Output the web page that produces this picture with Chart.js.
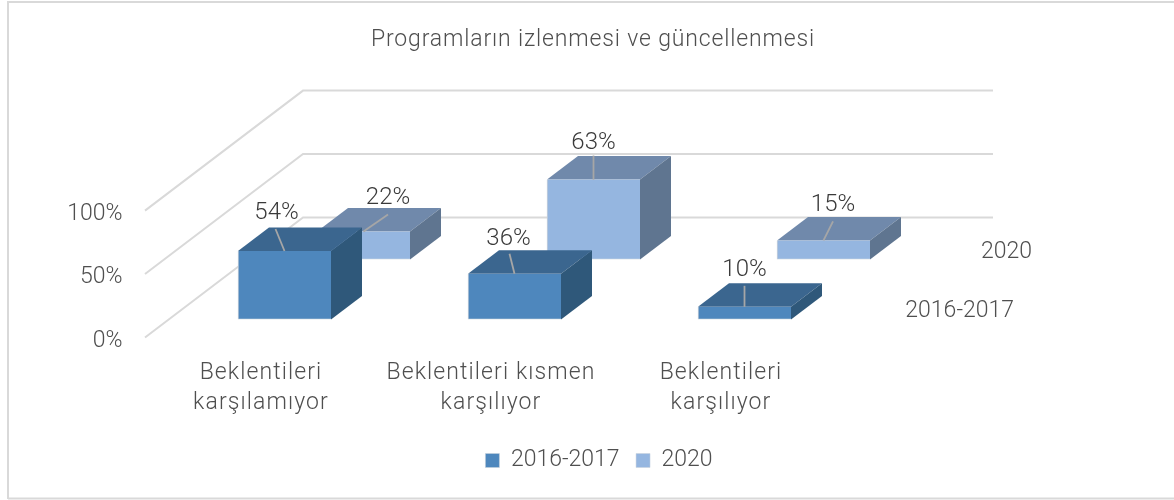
<!DOCTYPE html>
<html><head><meta charset="utf-8">
<style>html,body{margin:0;padding:0;background:#fff}canvas{display:block}</style>
<script src="https://cdn.jsdelivr.net/npm/chart.js@4"></script>
</head><body>
<canvas id="c" width="1174" height="500"></canvas>
<script>
const categories = [["Beklentileri","karşılamıyor"],["Beklentileri kısmen","karşılıyor"],["Beklentileri","karşılıyor"]];
const values2016 = [54, 36, 10];
const values2020 = [22, 63, 15];
const seriesNames = ["2016-2017", "2020"];
const yTicks = [0, 50, 100];
const chartTitle = "Programların izlenmesi ve güncellenmesi";

const FONT = "Roboto", TEXT = "#4f4f4f", WEIGHT = 300;
// Projection of the 3-D view: where each series row sits, and the box depth
const rows = [
  {dx: 0,  dy: -18, front: "#4e87bd", top: "#3b668f", side: "#2f587a", nameX: 1014, nameY: 309, labels: [[-8,-40,-9,-22],[-6,-37,-5,-20],[0,-39,0,-21]]},
  {dx: 79, dy: -78, front: "#95b6e0", top: "#7089ab", side: "#5f7590", nameX: 1032, nameY: 250, labels: [[24.5,-36,24.5,-17],[0,-39,0,-24],[9.5,-37,9.5,-19]]}
];
const DEPTH = {x: 31, y: -23.5};
const WALL = {frontX: 145, backX: 303, rightX: 993, rise: -120};

function spaced(obj, method, sp){
  const f = obj[method];
  obj[method] = function(...a){
    const x = this.ctx, prev = x.letterSpacing;
    x.letterSpacing = sp; f.apply(this, a); x.letterSpacing = prev;
  };
}

const depth3d = {
  id: "depth3d",
  afterLayout(c){
    c.legend.left += 6; c.legend.right += 6;
    if (!c.$spaced){
      c.$spaced = true;
      spaced(c.titleBlock, "draw", "0.85px");
      spaced(c.scales.x, "drawLabels", "1.1px");
    }
  },
  beforeDraw(c){
    const x = c.ctx;
    x.save();
    x.strokeStyle = "#d9d9d9"; x.lineWidth = 2;
    x.beginPath();
    x.moveTo(8, 499); x.lineTo(8, 2); x.lineTo(1174, 2);
    x.moveTo(8, 498.5); x.lineTo(1174, 498.5);
    x.stroke();
    x.restore();
  },
  beforeDatasetsDraw(c){
    const x = c.ctx, y = c.scales.y;
    x.save();
    x.strokeStyle = "#d9d9d9"; x.lineWidth = 2;
    yTicks.forEach(v => {
      const p = y.getPixelForValue(v);
      x.beginPath();
      x.moveTo(WALL.frontX, p);
      x.lineTo(WALL.backX, p + WALL.rise);
      x.lineTo(WALL.rightX, p + WALL.rise);
      x.stroke();
    });
    x.restore();
  },
  beforeDatasetDraw(c, args){
    const x = c.ctx, r = rows[args.index];
    x.save();
    x.translate(r.dx, r.dy);
    c.getDatasetMeta(args.index).data.forEach(el => {
      const l = el.x - el.width/2, w = el.width, t = el.y, b = el.base;
      x.fillStyle = r.top;
      x.beginPath();
      x.moveTo(l, t); x.lineTo(l + DEPTH.x, t + DEPTH.y);
      x.lineTo(l + w + DEPTH.x, t + DEPTH.y); x.lineTo(l + w, t);
      x.closePath(); x.fill();
      x.fillStyle = r.side;
      x.beginPath();
      x.moveTo(l + w, t); x.lineTo(l + w + DEPTH.x, t + DEPTH.y);
      x.lineTo(l + w + DEPTH.x, b + DEPTH.y); x.lineTo(l + w, b);
      x.closePath(); x.fill();
    });
  },
  afterDatasetDraw(c){ c.ctx.restore(); },
  afterDatasetsDraw(c){
    const x = c.ctx;
    x.save();
    x.textAlign = "center"; x.textBaseline = "middle";
    rows.forEach((r, i) => {
      const ds = c.data.datasets[i];
      c.getDatasetMeta(i).data.forEach((el, j) => {
        const tx = el.x + r.dx, ty = el.y + r.dy, o = r.labels[j];
        x.strokeStyle = "#a6a6a6"; x.lineWidth = 1.8;
        x.beginPath(); x.moveTo(tx, ty); x.lineTo(tx + o[2], ty + o[3]); x.stroke();
        x.fillStyle = "#3a3a3a";
        x.font = WEIGHT + " 24px " + FONT;
        x.fillText(ds.data[j] + "%", tx + o[0], ty + o[1] + 2);
      });
    });
    x.fillStyle = TEXT; x.textAlign = "right";
    x.font = WEIGHT + " 23px " + FONT;
    rows.forEach((r, i) => x.fillText(seriesNames[i], r.nameX, r.nameY + 2));
    x.restore();
  }
};

new Chart(document.getElementById("c"), {
  type: "bar",
  data: {
    labels: categories,
    datasets: [
      {label: seriesNames[0], data: values2016, backgroundColor: rows[0].front},
      {label: seriesNames[1], data: values2020, backgroundColor: rows[1].front}
    ]
  },
  plugins: [depth3d],
  options: {
    responsive: false,
    animation: false,
    events: [],
    layout: {padding: {left: 12, right: 0, top: 0, bottom: 18}},
    datasets: {bar: {grouped: false, barThickness: 93, borderSkipped: false, borderWidth: {bottom: 1, left: 1}, borderColor: "#cbd3db"}},
    scales: {
      x: {
        grid: {display: false}, border: {display: false},
        afterFit(s){ s.height = 95; },
        ticks: {color: TEXT, font: {family: FONT, size: 23, weight: WEIGHT, lineHeight: 1.3}, autoSkip: false, maxRotation: 0, minRotation: 0, padding: 13, labelOffset: -23.5}
      },
      y: {
        min: 0, max: 100,
        grid: {display: false}, border: {display: false},
        afterFit(s){ s.width = 157.5; },
        ticks: {stepSize: 50, color: TEXT, font: {family: FONT, size: 23, weight: WEIGHT}, padding: 39, labelOffset: 3.5, callback: v => v + "%"}
      },
      spacer: {
        position: "right", display: true,
        grid: {display: false}, border: {display: false},
        ticks: {display: false},
        afterFit(s){ s.width = 314.5; }
      }
    },
    plugins: {
      tooltip: {enabled: false},
      title: {display: true, text: chartTitle, color: TEXT, font: {family: FONT, size: 23, weight: WEIGHT, lineHeight: 1.2}, padding: {top: 26, bottom: 157}},
      legend: {position: "bottom", labels: {color: TEXT, font: {family: FONT, size: 23, weight: WEIGHT}, boxWidth: 14, boxHeight: 14, padding: 16.5}}
    }
  }
});
</script>
</body></html>
